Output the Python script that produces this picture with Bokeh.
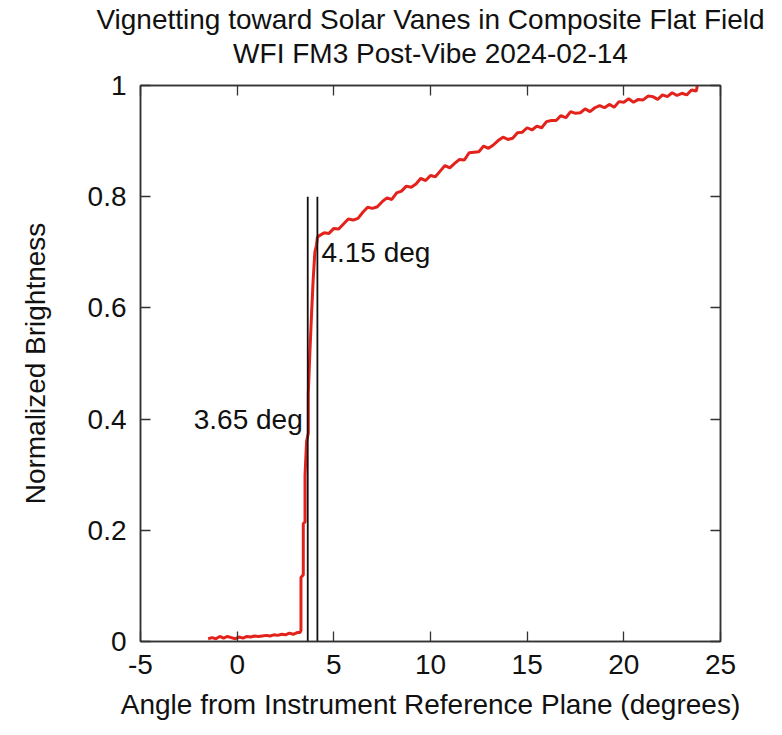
from bokeh.plotting import figure
from bokeh.models import (Range1d, FixedTicker, LinearAxis, Label, CustomJSTickFormatter)
from bokeh.embed import file_html
from bokeh.resources import INLINE

# ---------------- data ----------------
title_line1 = "Vignetting toward Solar Vanes in Composite Flat Field"
title_line2 = "WFI FM3 Post-Vibe 2024-02-14"
x_label = "Angle from Instrument Reference Plane (degrees)"
y_label = "Normalized Brightness"

x_ticks = [-5, 0, 5, 10, 15, 20, 25]
y_ticks = [0, 0.2, 0.4, 0.6, 0.8, 1]

# low (shadowed) part of the profile
low_angle = [-1.5, -1.3, -1.1, -0.9, -0.7, -0.5, -0.3, -0.1, 0.1, 0.3, 0.5, 0.7,
             0.9, 1.1, 1.3, 1.5, 1.7, 1.9, 2.1, 2.3, 2.5, 2.7, 2.9, 3.1, 3.25]
low_bright = [0.005, 0.007, 0.005, 0.009, 0.006, 0.009, 0.007, 0.005, 0.008, 0.006,
              0.009, 0.008, 0.010, 0.009, 0.010, 0.011, 0.010, 0.012, 0.011, 0.013,
              0.012, 0.015, 0.013, 0.016, 0.016]

# steep rise at the vane edge
ramp_angle = [3.30, 3.30, 3.42, 3.42, 3.51, 3.51, 3.59, 3.68, 3.68, 3.76, 3.85, 3.93, 4.02, 4.10]
ramp_bright = [0.020, 0.115, 0.120, 0.212, 0.215, 0.299, 0.36, 0.375, 0.447, 0.519,
               0.591, 0.650, 0.701, 0.712]

# unvignetted part of the profile
high_angle = [4.15, 4.25, 4.5, 4.75, 5.0, 5.25, 5.5, 5.75, 6.0, 6.25, 6.5, 6.75, 7.0,
              7.25, 7.5, 7.75, 8.0, 8.25, 8.5, 8.75, 9.0, 9.25, 9.5, 9.75, 10.0,
              10.25, 10.5, 10.75, 11.0, 11.25, 11.5, 11.75, 12.0, 12.25, 12.5, 12.75,
              13.0, 13.25, 13.5, 13.75, 14.0, 14.25, 14.5, 14.75, 15.0, 15.25, 15.5,
              15.75, 16.0, 16.25, 16.5, 16.75, 17.0, 17.25, 17.5, 17.75, 18.0, 18.25,
              18.5, 18.75, 19.0, 19.25, 19.5, 19.75, 20.0, 20.25, 20.5, 20.75, 21.0,
              21.25, 21.5, 21.75, 22.0, 22.25, 22.5, 22.75, 23.0, 23.25, 23.5, 23.75, 23.8]
high_bright = [0.727, 0.730, 0.735, 0.734, 0.743, 0.742, 0.751, 0.760, 0.758, 0.761,
               0.772, 0.781, 0.779, 0.782, 0.791, 0.798, 0.795, 0.807, 0.810, 0.819,
               0.817, 0.823, 0.833, 0.829, 0.838, 0.836, 0.846, 0.856, 0.852, 0.860,
               0.867, 0.866, 0.879, 0.880, 0.881, 0.891, 0.887, 0.893, 0.901, 0.907,
               0.903, 0.905, 0.915, 0.916, 0.924, 0.920, 0.927, 0.924, 0.935, 0.937,
               0.937, 0.946, 0.942, 0.953, 0.950, 0.951, 0.958, 0.953, 0.960, 0.964,
               0.960, 0.966, 0.961, 0.971, 0.970, 0.976, 0.970, 0.975, 0.974, 0.981,
               0.980, 0.975, 0.983, 0.980, 0.987, 0.982, 0.986, 0.983, 0.992, 0.990, 1.0]

vane_angles = [3.65, 4.15]
vane_top = 0.8
vane_labels = ["3.65 deg", "4.15 deg"]

# ---------------- figure ----------------
FONT = "Liberation Sans"
FS = "28px"
RED = "#e3221c"
INK = "#111111"

p = figure(width=782, height=735, output_backend="svg", toolbar_location=None,
           x_range=Range1d(-5, 25), y_range=Range1d(0, 1),
           min_border_left=140, min_border_right=62, min_border_top=85,
           min_border_bottom=94, x_axis_label=x_label, y_axis_label=y_label)
p.grid.visible = False
p.background_fill_color = "white"
p.border_fill_color = "white"
p.outline_line_color = "#333333"
p.outline_line_width = 1.5

xt = FixedTicker(ticks=x_ticks)
yt = FixedTicker(ticks=y_ticks)
fmt = CustomJSTickFormatter(code="return String(tick);")
blank = CustomJSTickFormatter(code="return '';")

for ax in p.xaxis:
    ax.ticker = xt
    ax.formatter = fmt
    ax.major_label_standoff = 13
    ax.axis_label_standoff = 12
for ax in p.yaxis:
    ax.ticker = yt
    ax.formatter = fmt
    ax.major_label_standoff = 14
    ax.axis_label_standoff = 34

# mirrored top axis; its label carries the second title line
top_axis = LinearAxis(ticker=xt, formatter=blank, major_label_text_font_size="0px",
                      major_label_standoff=0, axis_label=title_line2,
                      axis_label_standoff=17)
right_axis = LinearAxis(ticker=yt, formatter=blank, major_label_text_font_size="0px",
                        major_label_standoff=0)
p.add_layout(top_axis, "above")
p.add_layout(right_axis, "right")

for ax in p.axis:
    ax.major_tick_in = 10
    ax.major_tick_out = 0
    ax.minor_tick_line_color = None
    ax.major_tick_line_color = "#333333"
    ax.major_tick_line_width = 1.3
    ax.axis_line_color = "#333333"
    ax.axis_line_width = 1.5
    ax.major_label_text_font = FONT
    ax.axis_label_text_font = FONT
    ax.axis_label_text_font_size = FS
    ax.axis_label_text_font_style = "normal"
    ax.axis_label_text_color = INK
    ax.major_label_text_color = INK
for ax in p.xaxis + p.yaxis:
    ax.major_label_text_font_size = FS

# curve
angle = low_angle + ramp_angle + high_angle
bright = low_bright + ramp_bright + high_bright
p.line(angle, bright, line_color=RED, line_width=3)

# vane lines
p.segment(x0=vane_angles, y0=[0, 0], x1=vane_angles, y1=[vane_top, vane_top],
          line_color=INK, line_width=1.8)

p.add_layout(Label(x=vane_angles[0], y=0.40, text=vane_labels[0], text_align="right",
                   text_baseline="middle", x_offset=-5, text_font=FONT,
                   text_font_size=FS, text_color=INK))
p.add_layout(Label(x=vane_angles[1], y=0.70, text=vane_labels[1], text_align="left",
                   text_baseline="middle", x_offset=4, text_font=FONT,
                   text_font_size=FS, text_color=INK))

# first title line
p.title.text = title_line1
p.title.align = "center"
p.title.text_font = FONT
p.title.text_font_size = FS
p.title.text_font_style = "normal"
p.title.text_color = INK
p.title.standoff = 0

open("out.html", "w").write(file_html(p, INLINE))
